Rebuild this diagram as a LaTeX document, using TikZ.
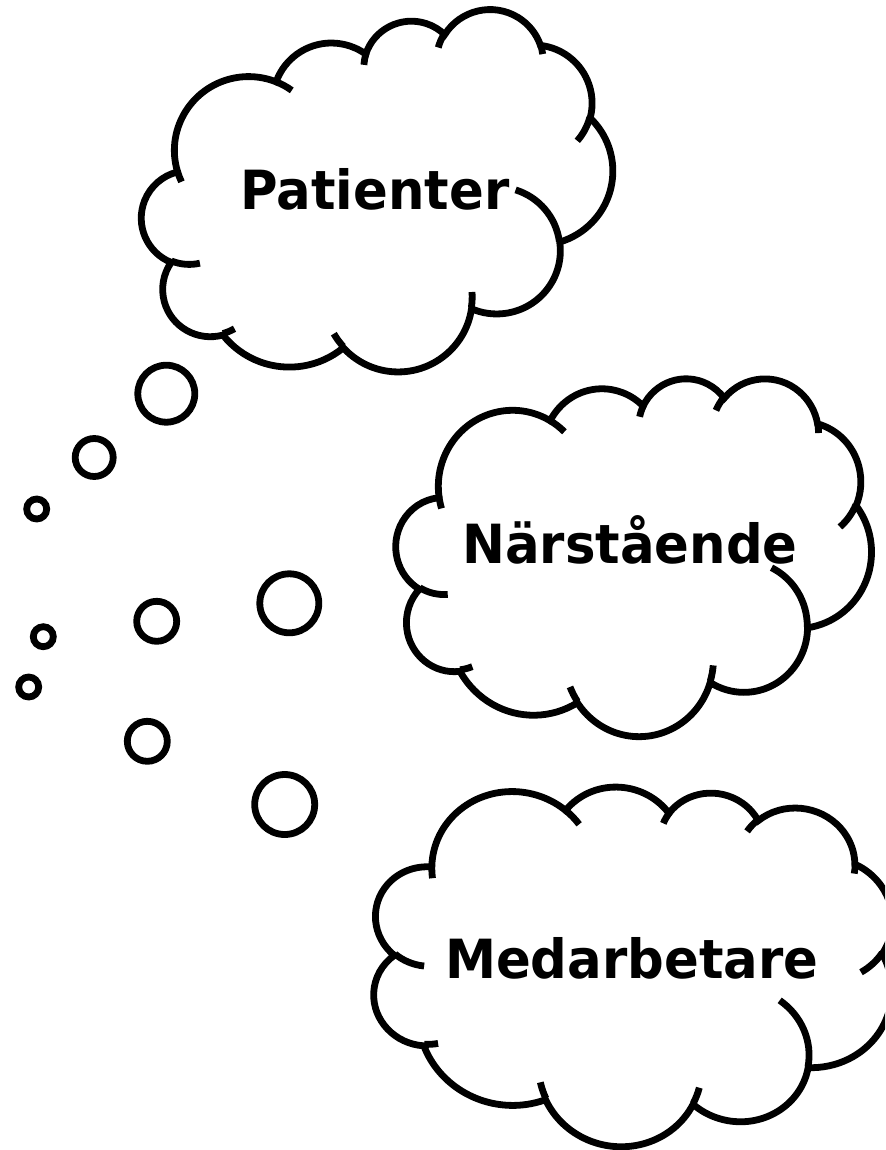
\documentclass[tikz,border=0pt]{standalone}
\usepackage{fontspec}
\setmainfont[FakeStretch=0.95]{DejaVu Sans}
\usepackage{tikz}
\usetikzlibrary{positioning}

\begin{document}
\begin{tikzpicture}[x=0.5pt, y=-0.5pt,
                declare function={vis(\rx,\ry,\ang)=atan2(\rx*sin(\ang),\ry*cos(\ang));},
                moarc/.style n args={4}{x radius=#1, y radius=#2,
                    start angle={vis(#1,#2,#3)},
                    delta angle={mod(vis(#1,#2,#3+#4)-vis(#1,#2,#3)+720,360)}},
                linje/.style={line width=3.4pt},
                bubbla/.style={circle, draw, linje, fill=white, inner sep=0pt, minimum size=#1},
                ord/.style={font=\bfseries\fontsize{27}{32}\selectfont, anchor=base, inner sep=0pt},
                moln/.pic={
                    \begin{scope}[shift={(-21.6,-21.6)}]
                    \draw[linje, fill=white] (3.900,14.370)
                        arc[moarc={6.753}{9.190}{-190.4875}{123.7805}]
                        arc[moarc={5.333}{7.267}{-144.1024}{89.9452}]
                        arc[moarc={4.365}{5.945}{-145.8079}{99.7230}]
                        arc[moarc={4.857}{6.595}{-130.9861}{117.2417}]
                        arc[moarc={5.333}{7.273}{-78.7089}{109.0269}]
                        arc[moarc={6.775}{9.220}{-46.2673}{130.2690}]
                        arc[moarc={5.785}{7.867}{0.6250}{114.0333}]
                        arc[moarc={6.752}{9.215}{22.4516}{115.1726}]
                        arc[moarc={7.720}{10.543}{66.2426}{75.7110}]
                        arc[moarc={4.360}{5.918}{-274.9421}{146.7356}]
                        arc[moarc={4.345}{5.945}{-246.8285}{152.5189}] -- cycle;
                    \draw[linje]
                        (4.693,26.177) arc[moarc={4.345}{5.945}{86.7420}{26.4295}]
                        (6.928,34.899) arc[moarc={4.360}{5.918}{73.6105}{11.4475}]
                        (16.478,39.090) arc[moarc={6.752}{9.215}{137.6242}{14.0811}]
                        (28.827,34.751) arc[moarc={6.752}{9.215}{6.4533}{15.9984}]
                        (34.129,22.954) arc[moarc={5.785}{7.867}{-70.2924}{70.9174}]
                        (41.798,15.354) arc[moarc={5.333}{7.273}{30.3180}{27.7515}]
                        (38.324,5.426) arc[moarc={4.857}{6.595}{-13.7443}{14.8524}]
                        (29.078,3.952) arc[moarc={4.857}{6.595}{-149.1815}{18.1900}]
                        (22.141,4.720) arc[moarc={4.365}{5.945}{-163.4943}{17.6953}]
                        (14.000,5.192) arc[moarc={6.753}{9.190}{-66.7070}{12.3194}]
                        (4.127,15.789) arc[moarc={6.753}{9.190}{157.6544}{11.8582}];
                    \end{scope}
                }]
    \clip (0,0) rectangle (885,1150);
    \fill[white] (0,0) rectangle (885,1150);

    \pic[rotate=8.5, xscale=10.975, yscale=8.013] (m001) at (378,199.5) {moln};
    \pic[xscale=11.0, yscale=8.28] (m002) at (633.7,556.5) {moln};
    \pic[rotate=-9.9, xscale=12.10, yscale=8.466] (m003) at (632.3,963) {moln};

    \node[ord] (n001) at (375,210) {Patienter};
    \node[ord] (n002) at (630,563.3) {Närstående};
    \node[ord] (n003) at (631.7,978.3) {Medarbetare};

    \node[bubbla=28.5pt] (b001) at (166.3,393.7) {};
    \node[bubbla=19pt] (b002) at (94.2,457.5) {};
    \node[bubbla=10pt] (b003) at (36.7,509) {};
    \node[bubbla=29.5pt] (b004) at (289.3,603.3) {};
    \node[bubbla=20pt] (b005) at (156.7,621.3) {};
    \node[bubbla=10pt] (b006) at (43.3,636.7) {};
    \node[bubbla=30pt] (b007) at (284.7,804.5) {};
    \node[bubbla=20pt] (b008) at (147.3,741.3) {};
    \node[bubbla=10pt] (b009) at (28.7,687) {};
\end{tikzpicture}
\end{document}
